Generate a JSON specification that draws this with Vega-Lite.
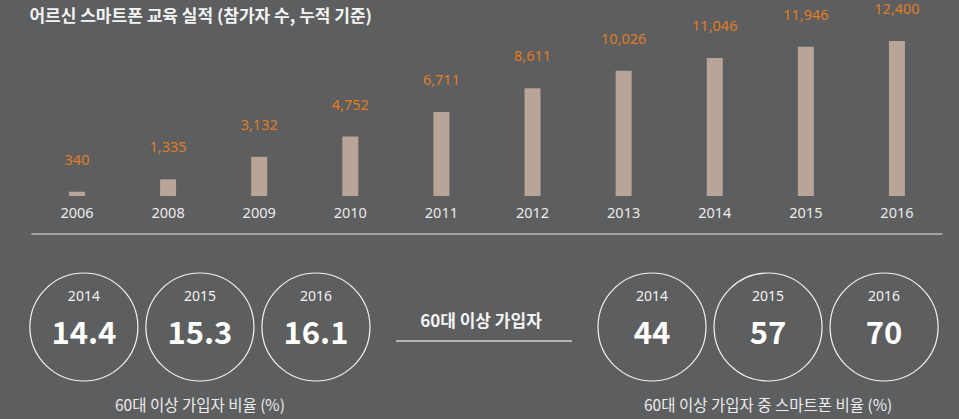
{
  "$schema": "https://vega.github.io/schema/vega-lite/v6.json",
  "width": 959,
  "height": 419,
  "autosize": {"type": "fit", "contains": "padding"},
  "padding": 0,
  "background": "#5d5e60",
  "config": {"view": {"stroke": null}, "font": "Noto Sans CJK KR"},
  "datasets": {
    "edu": [
      {"year": "2006", "participants": 340},
      {"year": "2008", "participants": 1335},
      {"year": "2009", "participants": 3132},
      {"year": "2010", "participants": 4752},
      {"year": "2011", "participants": 6711},
      {"year": "2012", "participants": 8611},
      {"year": "2013", "participants": 10026},
      {"year": "2014", "participants": 11046},
      {"year": "2015", "participants": 11946},
      {"year": "2016", "participants": 12400}
    ],
    "ratio": [
      {"metric": "60대 이상 가입자 비율 (%)", "year": "2014", "value": 14.4},
      {"metric": "60대 이상 가입자 비율 (%)", "year": "2015", "value": 15.3},
      {"metric": "60대 이상 가입자 비율 (%)", "year": "2016", "value": 16.1},
      {"metric": "60대 이상 가입자 중 스마트폰 비율 (%)", "year": "2014", "value": 44},
      {"metric": "60대 이상 가입자 중 스마트폰 비율 (%)", "year": "2015", "value": 57},
      {"metric": "60대 이상 가입자 중 스마트폰 비율 (%)", "year": "2016", "value": 70}
    ],
    "captions": [
      {"metric": "60대 이상 가입자 비율 (%)"},
      {"metric": "60대 이상 가입자 중 스마트폰 비율 (%)"}
    ],
    "center": [{"metric": "60대 이상 가입자"}],
    "heading": [{"text": "어르신 스마트폰 교육 실적 (참가자 수, 누적 기준)"}]
  },
  "layer": [
    {
      "layer": [
        {
          "data": {"name": "edu"},
          "mark": {"type": "bar", "color": "#b9a597", "width": 16},
          "encoding": {
            "x": {"field": "year", "type": "nominal", "axis": null,
                  "scale": {"type": "band", "paddingInner": 0, "paddingOuter": 0.263, "align": 0.656}},
            "y": {"field": "participants", "type": "quantitative", "axis": null,
                  "scale": {"domain": [-17840, 15680], "nice": false, "zero": false}}
          }
        },
        {
          "data": {"name": "edu"},
          "mark": {"type": "text", "font": "Noto Sans", "color": "#e07d22", "fontSize": 14.5, "dy": -31, "baseline": "middle"},
          "encoding": {
            "x": {"field": "year", "type": "nominal"},
            "y": {"field": "participants", "type": "quantitative"},
            "text": {"field": "participants", "type": "quantitative", "format": ","}
          }
        },
        {
          "data": {"name": "edu"},
          "mark": {"type": "text", "font": "Noto Sans", "color": "#ececec", "fontSize": 14.5, "dy": 18, "baseline": "middle"},
          "encoding": {
            "x": {"field": "year", "type": "nominal"},
            "y": {"datum": 0, "type": "quantitative"},
            "text": {"field": "year"}
          }
        },
        {
          "data": {"name": "heading"},
          "mark": {"type": "rule", "color": "#e8e8e8", "strokeWidth": 1.2},
          "encoding": {
            "x": {"datum": "2006", "type": "nominal", "bandPosition": 0},
            "x2": {"datum": "2016", "bandPosition": 1},
            "y": {"datum": -3040, "type": "quantitative"}
          }
        },
        {
          "data": {"name": "heading"},
          "mark": {"type": "text", "align": "left", "baseline": "middle", "fontWeight": "bold", "fontSize": 17, "color": "#f4f4f4", "dx": -2},
          "encoding": {
            "x": {"datum": "2006", "type": "nominal", "bandPosition": 0},
            "y": {"datum": 14320, "type": "quantitative"},
            "text": {"field": "text"}
          }
        }
      ]
    },
    {
      "layer": [
        {
          "data": {"name": "ratio"},
          "mark": {"type": "point", "shape": "circle", "size": 11664, "filled": false, "stroke": "#f2f2f2", "strokeWidth": 1.2, "opacity": 1, "yOffset": 117.5},
          "encoding": {
            "x": {"field": "metric", "type": "nominal", "axis": null,
                  "scale": {"type": "band", "domain": ["60대 이상 가입자 비율 (%)", "60대 이상 가입자", "60대 이상 가입자 중 스마트폰 비율 (%)"],
                            "paddingInner": 0, "paddingOuter": 0.188, "align": 0.542}},
            "xOffset": {"field": "year", "type": "nominal", "scale": {"type": "point", "padding": 0.224}}
          }
        },
        {
          "data": {"name": "ratio"},
          "mark": {"type": "text", "font": "Noto Sans", "color": "#f2f2f2", "fontSize": 14, "dy": 87.5, "baseline": "middle"},
          "encoding": {
            "x": {"field": "metric", "type": "nominal"},
            "xOffset": {"field": "year", "type": "nominal"},
            "text": {"field": "year"}
          }
        },
        {
          "data": {"name": "ratio"},
          "mark": {"type": "text", "color": "#ffffff", "fontSize": 31, "fontWeight": "bold", "dy": 125.5, "baseline": "middle"},
          "encoding": {
            "x": {"field": "metric", "type": "nominal"},
            "xOffset": {"field": "year", "type": "nominal"},
            "text": {"field": "value", "type": "quantitative"}
          }
        },
        {
          "data": {"name": "captions"},
          "mark": {"type": "text", "color": "#ececec", "fontSize": 15.5, "dy": 196.5, "baseline": "middle"},
          "encoding": {
            "x": {"field": "metric", "type": "nominal"},
            "text": {"field": "metric"}
          }
        },
        {
          "data": {"name": "center"},
          "mark": {"type": "text", "color": "#f4f4f4", "fontSize": 17, "fontWeight": "bold", "dy": 112.5, "dx": -3, "baseline": "middle"},
          "encoding": {
            "x": {"field": "metric", "type": "nominal"},
            "text": {"field": "metric"}
          }
        },
        {
          "data": {"name": "center"},
          "mark": {"type": "tick", "orient": "horizontal", "size": 176, "thickness": 1.5, "color": "#d4d4d4", "yOffset": 131.5, "opacity": 1},
          "encoding": {
            "x": {"field": "metric", "type": "nominal"}
          }
        }
      ]
    }
  ],
  "resolve": {"scale": {"x": "independent", "y": "independent"}}
}
